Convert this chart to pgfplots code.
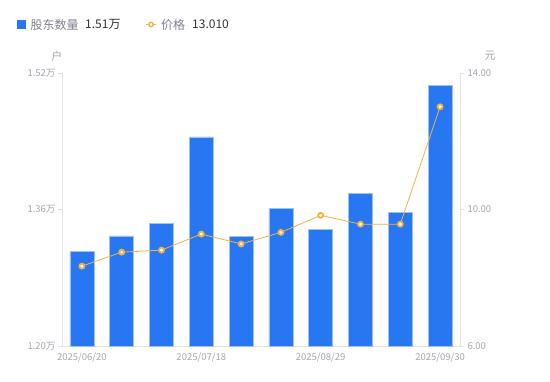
\documentclass[border=0pt]{standalone}
\usepackage{pgfplots}
\pgfplotsset{compat=1.18}
\usepackage{fontspec}
\setmainfont{Noto Sans CJK SC}
\definecolor{barblue}{HTML}{2777F2}
\definecolor{baredge}{HTML}{9CC0F8}
\definecolor{lineor}{HTML}{F8B140}
\definecolor{axgray}{HTML}{E2E3E8}
\definecolor{tickgray}{HTML}{A3A5B5}
\definecolor{leggray}{HTML}{80808F}
\definecolor{legdark}{HTML}{333333}
\begin{document}
\begin{tikzpicture}[x=1pt,y=1pt]
\useasboundingbox (0,0) rectangle (550,381);
\begin{axis}[
  at={(62pt,35pt)}, anchor=south west, scale only axis,
  width=398pt, height=273pt,
  xmin=-0.5, xmax=9.5, ymin=1.20, ymax=1.52,
  axis y line*=left, axis x line*=bottom,
  axis line style={axgray, line width=0.8pt},
  xtick={0,3,6,9},
  xticklabels={2025/06/20,2025/07/18,2025/08/29,2025/09/30},
  ytick={1.20,1.36,1.52},
  yticklabels={1.20万,1.36万,1.52万},
  tick align=outside, major tick length=4pt,
  y tick style={axgray, line width=0.8pt},
  x tick style={draw=none},
  tick label style={font=\fontsize{9.5}{11}\selectfont, text=tickgray},
  yticklabel style={xshift=1pt},
  xticklabel style={yshift=1pt},
  clip=false,
]
\addplot[ybar, bar width=24pt, fill=barblue, draw=baredge, line width=0.6pt]
coordinates {(0,1.311) (1,1.329) (2,1.344) (3,1.445) (4,1.328) (5,1.361) (6,1.337) (7,1.379) (8,1.357) (9,1.505)};
\end{axis}
\begin{axis}[
  at={(62pt,35pt)}, anchor=south west, scale only axis,
  width=398pt, height=273pt,
  xmin=-0.5, xmax=9.5, ymin=6, ymax=14,
  axis y line*=right, axis x line=none,
  axis line style={axgray, line width=0.8pt},
  ytick={6,10,14},
  yticklabels={6.00,10.00,14.00},
  tick align=outside, major tick length=4pt,
  y tick style={axgray, line width=0.8pt},
  tick label style={font=\fontsize{9.5}{11}\selectfont, text=tickgray},
  clip=false,
]
\addplot[lineor, line width=0.8pt, mark=*, mark size=2.5pt,
  mark options={fill=white, draw=lineor, line width=1.8pt}]
coordinates {(0,8.34) (1,8.75) (2,8.81) (3,9.28) (4,8.99) (5,9.33) (6,9.83) (7,9.57) (8,9.57) (9,13.01)};
\end{axis}
\node[text=tickgray, font=\fontsize{11}{13}\selectfont] at (57,325) {户};
\node[text=tickgray, font=\fontsize{11}{13}\selectfont] at (490,325) {元};
% legend
\fill[barblue] (17,352) rectangle (26,360.5);
\node[anchor=west, inner sep=0pt, text=leggray, font=\fontsize{12}{14}\selectfont] at (30.5,356.5) {股东数量};
\node[anchor=west, inner sep=0pt, text=legdark, font=\fontsize{12}{14}\selectfont] at (85,356.5) {1.51万};
\draw[lineor, line width=1pt] (146,356.5) -- (156,356.5);
\draw[lineor, fill=white, line width=1.4pt] (151,356.5) circle (2.2);
\node[anchor=west, inner sep=0pt, text=leggray, font=\fontsize{12}{14}\selectfont] at (161,356.5) {价格};
\node[anchor=west, inner sep=0pt, text=legdark, font=\fontsize{12}{14}\selectfont] at (192,356.5) {13.010};
\end{tikzpicture}
\end{document}
